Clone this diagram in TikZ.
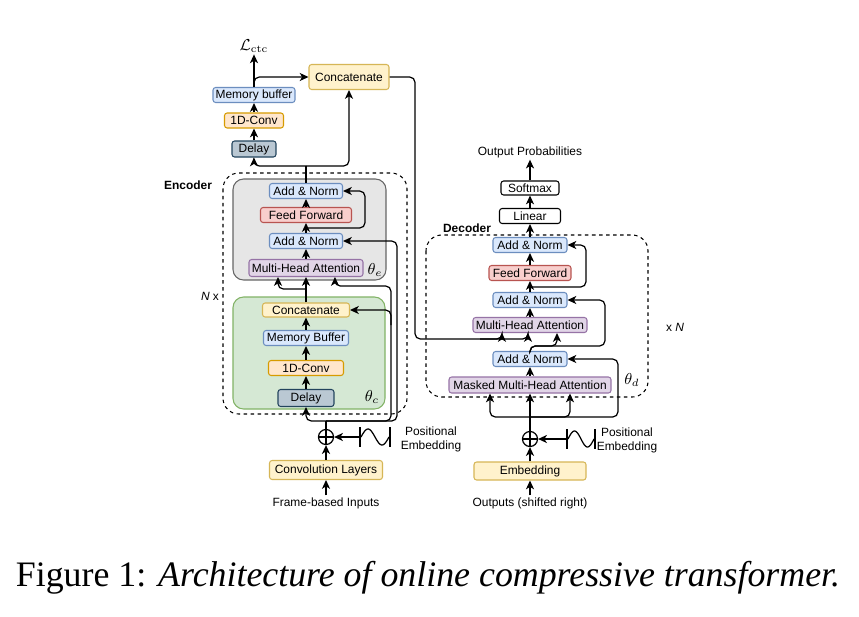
\documentclass[tikz,border=0pt]{standalone}
\usepackage[no-math]{fontspec}
\setmainfont{Liberation Sans}
\newfontfamily\capfont{Liberation Serif}
\usepackage{xcolor}
\definecolor{BlueFill}{HTML}{DAE8FC}
\definecolor{BlueLine}{HTML}{6C8EBF}
\definecolor{OrangeFill}{HTML}{FFE6CC}
\definecolor{OrangeLine}{HTML}{D79B00}
\definecolor{YellowFill}{HTML}{FFF2CC}
\definecolor{YellowLine}{HTML}{D6B656}
\definecolor{RedFill}{HTML}{F8CECC}
\definecolor{RedLine}{HTML}{B85450}
\definecolor{PurpleFill}{HTML}{E1D5E7}
\definecolor{PurpleLine}{HTML}{9673A6}
\definecolor{SlateFill}{HTML}{BAC8D3}
\definecolor{SlateLine}{HTML}{23445D}
\definecolor{GreenFill}{HTML}{D5E8D4}
\definecolor{GreenLine}{HTML}{82B366}
\definecolor{GrayFill}{HTML}{E6E6E6}
\definecolor{GrayLine}{HTML}{666666}
\usetikzlibrary{arrows.meta}

\begin{document}
\begin{tikzpicture}[x=0.02cm, y=-0.02cm, >={Stealth[length=5pt,width=4.6pt,inset=1.4pt]},
  box/.style={rectangle, rounded corners=1.5pt, line width=0.6pt, inner sep=0pt,
              minimum height=0.3cm, font=\fontsize{6.8}{8}\selectfont},
  bluebox/.style={box, draw=BlueLine, fill=BlueFill},
  orangebox/.style={box, draw=OrangeLine, fill=OrangeFill},
  yellowbox/.style={box, draw=YellowLine, fill=YellowFill},
  redbox/.style={box, draw=RedLine, fill=RedFill},
  purplebox/.style={box, draw=PurpleLine, fill=PurpleFill},
  slatebox/.style={box, draw=SlateLine, fill=SlateFill},
  whitebox/.style={box, draw=black, fill=white},
  group/.style={rounded corners=6pt, line width=0.6pt},
  dashgroup/.style={rounded corners=9pt, dash pattern=on 2pt off 2pt, line width=0.6pt},
  oplus/.style={circle, draw, line width=0.7pt, minimum size=0.3cm, inner sep=0pt,
                path picture={\draw[line width=0.7pt]
                  (path picture bounding box.north) -- (path picture bounding box.south)
                  (path picture bounding box.west) -- (path picture bounding box.east);}},
  arr/.style={->, line width=0.7pt},
  wire/.style={line width=0.7pt},
  lbl/.style={font=\fontsize{6.8}{8}\selectfont, inner sep=1pt, align=center},
  ttl/.style={font=\bfseries\fontsize{6.8}{8}\selectfont, inner sep=1pt},
  prm/.style={font=\fontsize{9}{10}\selectfont, inner sep=0pt}
]
\path[fill=white, use as bounding box] (0,0) rectangle (859,616);

%% ---- containers ----
\draw[dashgroup] (223,173) rectangle (407,414);
\draw[group, draw=GrayLine, fill=GrayFill] (233,179) rectangle (386,280);
\draw[group, draw=GreenLine, fill=GreenFill] (233,297) rectangle (385,409);
\draw[dashgroup] (426,235) rectangle (648,397);

%% ---- encoder: output side (top) ----
\node[lbl, font=\fontsize{9}{10}\selectfont] (lctc) at (254,46) {$\mathcal{L}_{\mathrm{ctc}}$};
\node[bluebox, minimum width=1.64cm] (tmem) at (254,95) {Memory buffer};
\node[orangebox, minimum width=1.18cm] (tconv) at (254,120.5) {1D-Conv};
\node[slatebox, minimum width=0.88cm, minimum height=0.32cm] (tdelay) at (254,149) {Delay};
\node[yellowbox, minimum width=1.6cm, minimum height=0.5cm] (tconcat) at (349,77) {Concatenate};
\coordinate (encout) at (306,166);

%% ---- encoder: transformer layer (gray) ----
\node[ttl] (enctitle) at (188,185) {Encoder};
\node[bluebox, minimum width=1.46cm] (eaddn1) at (306,191) {Add \& Norm};
\node[redbox, minimum width=1.82cm] (eff) at (306,215) {Feed Forward};
\node[bluebox, minimum width=1.46cm] (eaddn2) at (306,241) {Add \& Norm};
\node[purplebox, minimum width=2.28cm, minimum height=0.34cm] (emha) at (306,268) {Multi-Head Attention};
\node[prm] (thetae) at (375,270) {$\theta_e$};
\coordinate (eres) at (306,228);
\coordinate (ekv) at (306,289);

%% ---- encoder: compression part (green) ----
\node[lbl] (nx) at (210,296) {\textit{N} x};
\node[yellowbox, minimum width=1.74cm, minimum height=0.28cm] (econcat) at (306,310) {Concatenate};
\node[bluebox, minimum width=1.70cm] (emem) at (306,338) {Memory Buffer};
\node[orangebox, minimum width=1.50cm] (econv) at (306,368) {1D-Conv};
\node[slatebox, minimum width=1.12cm, minimum height=0.34cm] (edelay) at (306,398) {Delay};
\node[prm] (thetac) at (372,397) {$\theta_c$};

%% ---- encoder: input ----
\coordinate (encsplit) at (326,421);
\node[oplus] (eadd) at (326,437) {};
\node[yellowbox, minimum width=2.26cm, minimum height=0.38cm] (econvl) at (326,470) {Convolution Layers};
\node[lbl] (einput) at (326,503) {Frame-based Inputs};
\coordinate (epe) at (360,437);
\node[lbl] (epetext) at (431,439) {Positional\\Embedding};

%% ---- decoder ----
\node[lbl] (outprob) at (530,152) {Output Probabilities};
\node[whitebox, minimum width=1.16cm, minimum height=0.28cm] (dsoft) at (530,188) {Softmax};
\node[whitebox, minimum width=1.22cm] (dlin) at (530,216) {Linear};
\node[ttl] (dectitle) at (467,228) {Decoder};
\node[bluebox, minimum width=1.48cm] (daddn1) at (530,245) {Add \& Norm};
\node[redbox, minimum width=1.64cm] (dff) at (530,273) {Feed Forward};
\node[bluebox, minimum width=1.48cm] (daddn2) at (530,300) {Add \& Norm};
\node[purplebox, minimum width=2.28cm] (dmha) at (530,325) {Multi-Head Attention};
\node[bluebox, minimum width=1.48cm] (daddn3) at (530,359) {Add \& Norm};
\node[purplebox, minimum width=3.24cm, minimum height=0.32cm] (dmmha) at (530,385) {Masked Multi-Head Attention};
\node[prm] (thetad) at (632,380) {$\theta_d$};
\node[lbl] (xn) at (675,327) {x \textit{N}};
\coordinate (dres) at (530,287);
\coordinate (dsplit) at (530,417);
\node[oplus] (dadd) at (530,439) {};
\node[yellowbox, minimum width=2.24cm, minimum height=0.36cm] (demb) at (530,471) {Embedding};
\node[lbl] (dinput) at (530,503) {Outputs (shifted right)};
\coordinate (dpe) at (567,439);
\node[lbl] (dpetext) at (627,440) {Positional\\Embedding};

%% ---- positional embedding icons ----
\draw[wire] (360,427) -- (360,447) (390,427) -- (390,447);
\draw[wire, smooth, variable=\t, domain=0:360, samples=30]
  plot ({361+\t/360*28}, {437-8*sin(\t)});
\draw[wire] (567,429) -- (567,449) (595,429) -- (595,449);
\draw[wire, smooth, variable=\t, domain=0:360, samples=30]
  plot ({568+\t/360*26}, {439-8*sin(\t)});

%% ---- encoder arrows ----
\draw[arr] (einput) -- (econvl);
\draw[arr] (econvl) -- (eadd);
\draw[arr] (epe) -- (eadd);
\draw[wire] (eadd) -- (encsplit);
\draw[arr, rounded corners=3pt] (encsplit) -| (edelay.south);
\draw[arr] (edelay) -- (econv);
\draw[arr] (econv) -- (emem);
\draw[arr] (emem) -- (econcat);
\draw[arr] (econcat) -- (emha);
\draw[arr, rounded corners=3pt] (ekv) -| ([xshift=-0.56cm]emha.south);
\draw[arr, rounded corners=3pt] (encsplit) -| (391,286) -| ([xshift=0.58cm]emha.south);
\draw[arr, rounded corners=3pt] (391,325) |- (econcat.east);
\draw[arr, rounded corners=3pt] (encsplit) -| (397,241) -- (eaddn2.east);
\draw[arr] (emha) -- (eaddn2);
\draw[arr] (eaddn2) -- (eff);
\draw[arr] (eff) -- (eaddn1);
\draw[arr, rounded corners=3pt] (eres) -| (365,191) -- (eaddn1.east);

%% ---- encoder top arrows ----
\draw[wire] (eaddn1) -- (encout);
\draw[arr, rounded corners=3pt] (encout) -| (tdelay.south);
\draw[arr, rounded corners=3pt] (encout) -| (tconcat.south);
\draw[arr] (tdelay) -- (tconv);
\draw[arr] (tconv) -- (tmem);
\draw[arr] (tmem) -- (lctc);
\draw[arr, rounded corners=3pt] (tmem.north) |- (tconcat.west);
\draw[arr, rounded corners=3pt] (tconcat.east) -| (415,339) -| ([xshift=-0.04cm]dmha.south);
\draw[arr, rounded corners=3pt] (480,339) -| ([xshift=-0.56cm]dmha.south);

%% ---- decoder arrows ----
\draw[arr] (dinput) -- (demb);
\draw[arr] (demb) -- (dadd);
\draw[arr] (dpe) -- (dadd);
\draw[wire] (dadd) -- (dsplit);
\draw[arr, rounded corners=3pt] (dsplit) -| ([xshift=-0.8cm]dmmha.south);
\draw[arr] (dsplit) -- (dmmha);
\draw[arr, rounded corners=3pt] (dsplit) -| ([xshift=0.8cm]dmmha.south);
\draw[arr, rounded corners=3pt] (dsplit) -| (618,359) -- (daddn3.east);
\draw[arr] (dmmha) -- (daddn3);
\draw[arr, rounded corners=3pt] (daddn3.north) -- ++(0,-5) -| ([xshift=0.54cm]dmha.south);
\draw[arr, rounded corners=3pt] (daddn3.north) -- ++(0,-5) -| (605,300) -- (daddn2.east);
\draw[arr] (dmha) -- (daddn2);
\draw[arr] (daddn2) -- (dff);
\draw[arr] (dff) -- (daddn1);
\draw[arr, rounded corners=3pt] (dres) -| (586,245) -- (daddn1.east);
\draw[arr] (daddn1) -- (dlin);
\draw[arr] (dlin) -- (dsoft);
\draw[arr] (dsoft) -- (outprob);

%% ---- caption ----
\node[font=\capfont\fontsize{20.4}{24}\selectfont, inner sep=0pt] (caption) at (428,578)
  {Figure 1: \textit{Architecture of online compressive transformer.}};
\end{tikzpicture}
\end{document}
